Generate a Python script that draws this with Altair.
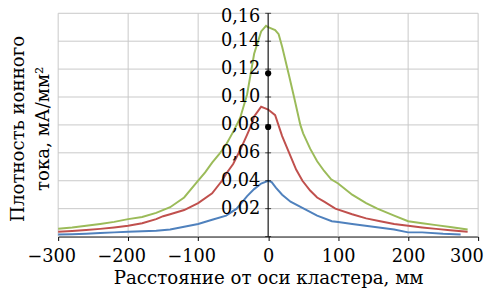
import altair as alt
import pandas as pd

# distance from cluster axis, mm / ion current density, mA/mm^2
green_x = [-300, -280, -260, -240, -220, -200, -180, -160, -140, -120, -100, -90, -80, -70, -60, -50, -40, -30, -20, -10, -3, 0, 10, 15, 20, 30, 37, 46, 50, 60, 70, 80, 90, 100, 120, 140, 156, 180, 200, 220, 240, 260, 285]
green_y = [0.0056, 0.0065, 0.0077, 0.0090, 0.0105, 0.0125, 0.0140, 0.0170, 0.0210, 0.0280, 0.0400, 0.0460, 0.0530, 0.0590, 0.0660, 0.0750, 0.0850, 0.1020, 0.1310, 0.1470, 0.1510, 0.1500, 0.1480, 0.1450, 0.1360, 0.1150, 0.1000, 0.0800, 0.0740, 0.0630, 0.0540, 0.0470, 0.0410, 0.0380, 0.0300, 0.0240, 0.0200, 0.0150, 0.0110, 0.0095, 0.0082, 0.0068, 0.0050]

red_x = [-300, -280, -260, -240, -220, -200, -180, -160, -150, -140, -120, -100, -80, -66, -60, -50, -40, -30, -24, -20, -10, -5, 0, 10, 20, 30, 40, 49, 60, 70, 80, 96, 120, 140, 160, 180, 200, 220, 240, 260, 285]
red_y = [0.0035, 0.0040, 0.0047, 0.0055, 0.0065, 0.0077, 0.0095, 0.0125, 0.0146, 0.0160, 0.0190, 0.0240, 0.0310, 0.0400, 0.0450, 0.0520, 0.0620, 0.0730, 0.0800, 0.0860, 0.0930, 0.0920, 0.0910, 0.0870, 0.0720, 0.0600, 0.0480, 0.0400, 0.0330, 0.0280, 0.0250, 0.0200, 0.0160, 0.0130, 0.0110, 0.0090, 0.0077, 0.0065, 0.0055, 0.0045, 0.0035]

blue_x = [-300, -280, -260, -240, -220, -200, -180, -160, -140, -120, -100, -80, -60, -45, -30, -20, -10, 0, 5, 11, 20, 32, 53, 70, 91, 100, 120, 150, 180, 200, 220, 250, 275]
blue_y = [0.0015, 0.0017, 0.0020, 0.0025, 0.0030, 0.0035, 0.0038, 0.0042, 0.0050, 0.0070, 0.0090, 0.0120, 0.0150, 0.0200, 0.0290, 0.0340, 0.0380, 0.0400, 0.0390, 0.0350, 0.0300, 0.0250, 0.0195, 0.0150, 0.0110, 0.0104, 0.0090, 0.0070, 0.0050, 0.0030, 0.0030, 0.0020, 0.0015]

dot_x = [0, 0]
dot_y = [0.117, 0.0785]

series_names = ["blue", "red", "green"]
series_colors = ["#4F81BD", "#C0504D", "#9BBB59"]

x_ticks = [-300, -200, -100, 0, 100, 200, 300]
y_ticks = [0, 0.02, 0.04, 0.06, 0.08, 0.10, 0.12, 0.14, 0.16]
y_axis_at = [0]

rows = []
for name, xs_, ys_ in [("blue", blue_x, blue_y), ("red", red_x, red_y), ("green", green_x, green_y)]:
    for i, (a, b) in enumerate(zip(xs_, ys_)):
        rows.append({"s": name, "x": a, "y": b, "o": i})
df = pd.DataFrame(rows)
dots = pd.DataFrame({"x": dot_x, "y": dot_y})

# grid drawn as line segments built from the tick lists
grows = []
for t in x_ticks:
    grows.append({"g": f"v{t}", "x": t, "y": y_ticks[0], "o": 0})
    grows.append({"g": f"v{t}", "x": t, "y": y_ticks[-1], "o": 1})
for t in y_ticks[1:]:
    grows.append({"g": f"h{t}", "x": x_ticks[0], "y": t, "o": 0})
    grows.append({"g": f"h{t}", "x": x_ticks[-1], "y": t, "o": 1})
gdf = pd.DataFrame(grows)

yaxis_df = pd.DataFrame({"x": y_axis_at, "y": [y_ticks[0]], "y2": [y_ticks[-1]]})
ylab = pd.DataFrame({"x": [y_axis_at[0]] * (len(y_ticks) - 1), "y": y_ticks[1:],
                     "t": [f"{v:.2f}".replace(".", ",") for v in y_ticks[1:]]})
ytk = pd.DataFrame({"x": [y_axis_at[0]] * len(y_ticks), "y": y_ticks})

FONT = "DejaVu Serif"
W, H = 427, 227
LFS = 18
TFS = 18.5
GRID = "#c8c8c8"

xs = alt.Scale(domain=[-300, 300], nice=False, zero=False)
ys = alt.Scale(domain=[0, 0.16], nice=False)

x_axis = alt.Axis(
    values=x_ticks, title="Расстояние от оси кластера, мм",
    labelExpr="datum.value < 0 ? '\u2212' + abs(datum.value) : '' + datum.value",
    labelOffset={"condition": [{"test": "datum.value < 0", "value": -7},
                               {"test": "datum.value >= 300", "value": -12}], "value": 0},
    grid=False, labelOverlap=False, labelBound=False,
    domainColor="#000000", tickColor="#000000", tickSize=4,
    labelPadding=7, titlePadding=4, labelFontSize=LFS, titleFontSize=TFS,
    labelFont=FONT, titleFont=FONT, labelColor="#000", titleColor="#000",
    titleFontWeight="normal", labelFlush=False)

y_axis = alt.Axis(
    title=["Плотность ионного", "тока, мА/мм²"],
    grid=False, domain=False, ticks=False, labels=False,
    titleFontSize=TFS, titleFont=FONT, titleColor="#000",
    titleFontWeight="normal", titleAngle=270, titleAlign="center",
    titleBaseline="top", titleX=-50, titleY=117, titleLineHeight=25)

X = lambda f="x": alt.X(f"{f}:Q", scale=xs, axis=x_axis)
Y = lambda f="y": alt.Y(f"{f}:Q", scale=ys, axis=y_axis)

grid = alt.Chart(gdf).mark_line(color=GRID, strokeWidth=1, opacity=1).encode(
    x=X(), y=Y(), detail="g:N", order="o:Q")

lines = alt.Chart(df).mark_line(strokeWidth=2).encode(
    x=X(), y=Y(),
    color=alt.Color("s:N", scale=alt.Scale(domain=series_names, range=series_colors), legend=None),
    order="o:Q",
    detail="s:N",
)

yline = alt.Chart(yaxis_df).mark_rule(color="#000000", strokeWidth=1).encode(
    x=X(), y=Y(), y2="y2:Q")
yticks = alt.Chart(ytk).mark_tick(orient="horizontal", size=6, thickness=1, color="#000000").encode(
    x=X(), y=Y())
ylabels = alt.Chart(ylab).transform_filter("datum.y < 0.159").mark_text(
    align="right", baseline="middle", dx=-8, font=FONT, fontSize=LFS, color="#000000"
).encode(x=X(), y=Y(), text="t:N")
ytop = alt.Chart(ylab).transform_filter("datum.y >= 0.159").mark_text(
    align="right", baseline="middle", dx=-8, dy=4, font=FONT, fontSize=LFS, color="#000000"
).encode(x=X(), y=Y(), text="t:N")

pts = alt.Chart(dots).mark_circle(size=40, color="#000000", opacity=1).encode(x=X(), y=Y())

chart = alt.layer(grid, lines, yline, yticks, ylabels, ytop, pts).properties(
    width=W, height=H,
    autosize=alt.AutoSizeParams(type="none"),
    padding={"left": 51, "top": 3, "right": 8, "bottom": 54},
).configure_view(stroke=None, fill=None)

chart.save("out.html", embed_options={"renderer": "svg", "actions": False})
